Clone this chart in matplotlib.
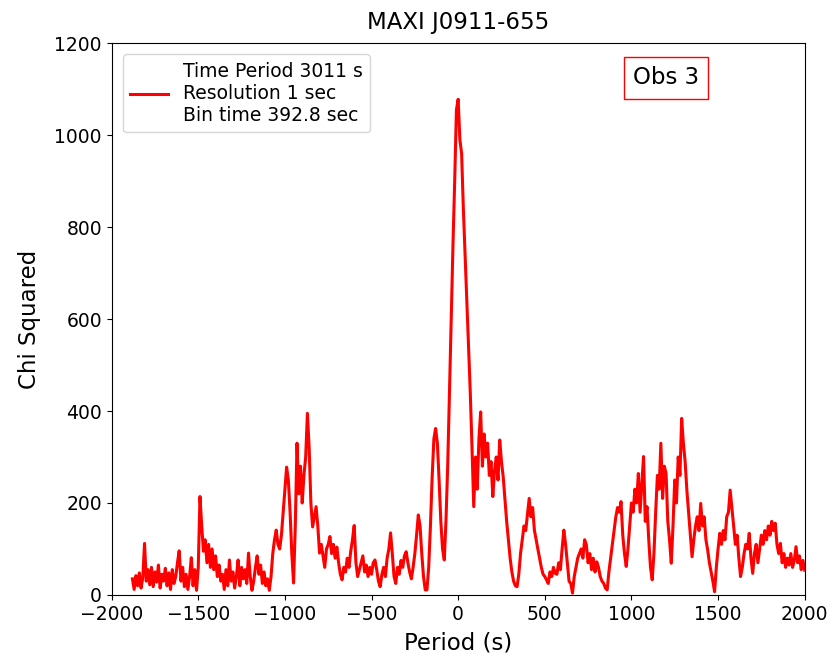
import numpy as np
import matplotlib
matplotlib.use('Agg')
import matplotlib.pyplot as plt

# periods sampled every 10 s from -1880 to 2000
period = np.arange(-1880, 2001, 10)

chi2 = [
    35, 12, 42, 20, 48, 15, 38, 112, 30, 55,          # -1880
    22, 60, 18, 50, 28, 65, 15, 45, 30, 58,           # -1780
    20, 48, 12, 55, 25, 40, 70, 96, 30, 60,           # -1680
    18, 45, 12, 40, 81, 20, 55, 10, 60, 214,          # -1580
    150, 95, 120, 70, 110, 60, 100, 55, 85, 40,       # -1480
    65, 30, 45, 12, 55, 20, 76, 30, 50, 15,           # -1380
    40, 76, 20, 60, 35, 55, 25, 91, 40, 10,           # -1280
    30, 60, 85, 45, 65, 25, 50, 20, 35, 10,           # -1180
    40, 90, 120, 141, 110, 100, 130, 180, 230, 278,   # -1080
    250, 180, 90, 26, 150, 330, 220, 280, 200, 260,   # -980
    300, 395, 320, 200, 148, 170, 192, 150, 91, 110,  # -880
    85, 60, 100, 110, 127, 90, 110, 80, 104, 70,      # -780
    45, 33, 60, 50, 80, 60, 95, 120, 151, 70,         # -680
    40, 55, 70, 85, 50, 65, 40, 60, 45, 70,           # -580
    76, 55, 30, 18, 45, 60, 40, 80, 100, 135,         # -480
    90, 40, 25, 60, 45, 75, 60, 85, 94, 70,           # -380
    50, 35, 60, 90, 130, 174, 150, 90, 40, 11,        # -280
    11, 60, 150, 257, 340, 362, 330, 250, 160, 100,   # -180
    76, 165, 285, 440, 600, 760, 900, 1055, 1078, 990,  # -80
    960, 840, 740, 640, 540, 440, 320, 192, 300, 230,  # 20
    340, 398, 280, 350, 300, 330, 260, 290, 214, 270,  # 120
    300, 250, 337, 290, 257, 210, 160, 120, 80, 50,    # 220
    30, 20, 18, 45, 90, 120, 150, 140, 175, 210,       # 320
    170, 190, 141, 120, 100, 80, 60, 45, 40, 33,       # 420
    25, 50, 40, 60, 47, 45, 70, 55, 100, 141,          # 520
    110, 70, 30, 25, 4, 40, 60, 80, 90, 100,           # 620
    80, 120, 109, 70, 90, 55, 80, 50, 72, 60,          # 720
    40, 30, 25, 15, 11, 50, 80, 110, 140, 170,         # 820
    190, 180, 203, 130, 90, 62, 100, 150, 200, 180,    # 920
    230, 200, 264, 180, 240, 301, 160, 192, 120, 60,   # 1020
    33, 90, 180, 260, 230, 330, 210, 280, 264, 160,    # 1120
    120, 69, 150, 250, 200, 300, 260, 384, 330, 290,   # 1220
    228, 180, 130, 83, 120, 150, 170, 140, 199, 150,   # 1320
    170, 120, 98, 70, 50, 30, 7, 60, 100, 134,         # 1420
    110, 140, 120, 170, 180, 228, 190, 150, 110, 130,  # 1520
    80, 40, 60, 90, 110, 100, 134, 80, 47, 90,         # 1620
    110, 70, 100, 130, 110, 140, 120, 150, 130, 160,   # 1720
    140, 156, 110, 90, 112, 70, 90, 60, 80, 65,        # 1820
    90, 60, 75, 105, 70, 85, 55, 75, 54,               # 1920
]

legend_label = "Time Period 3011 s\nResolution 1 sec\nBin time 392.8 sec"

fig = plt.figure(figsize=(8.33, 6.64), dpi=100)
ax = fig.add_axes([0.134, 0.104, 0.832, 0.831])

ax.plot(period, chi2, color='red', lw=2.2, label=legend_label)

ax.set_xlim(-2000, 2000)
ax.set_ylim(0, 1200)
ax.set_xticks(np.arange(-2000, 2001, 500))
ax.set_yticks(np.arange(0, 1201, 200))
ax.tick_params(labelsize=13.5)

ax.set_title('MAXI J0911-655', fontsize=16.5, pad=10)
ax.set_xlabel('Period (s)', fontsize=16.5, labelpad=6)
ax.set_ylabel('Chi Squared', fontsize=16.5, labelpad=10)

ax.legend(loc='upper left', fontsize=13.5, borderaxespad=0.6)
ax.text(0.80, 0.937, 'Obs 3', transform=ax.transAxes, fontsize=16.5,
        ha='center', va='center',
        bbox=dict(facecolor='white', edgecolor='red', boxstyle='square,pad=0.4'))

fig.savefig('out.png', dpi=100)
